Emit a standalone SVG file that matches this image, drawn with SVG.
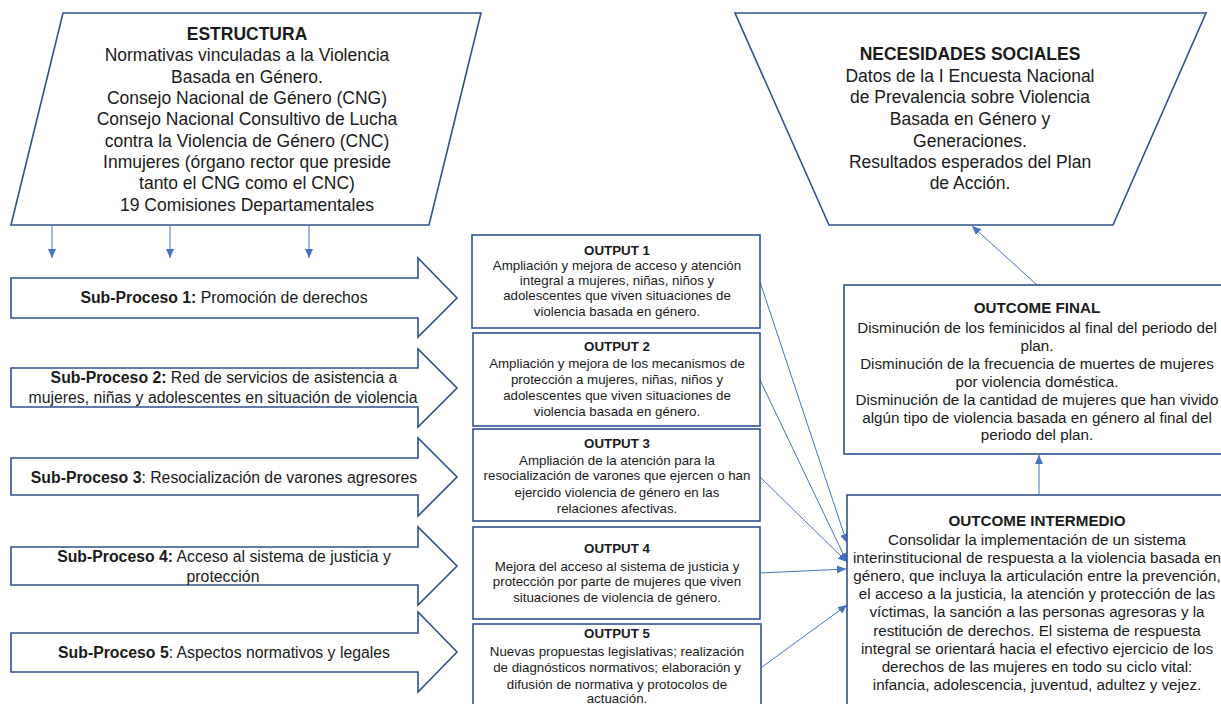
<svg xmlns="http://www.w3.org/2000/svg" width="1221" height="704" viewBox="0 0 1221 704">
<defs>
<style>
.shape{fill:#ffffff;stroke:#2f528f;stroke-width:1.6}
.conn{fill:none;stroke:#4472c4;stroke-width:1}
text{font-family:"Liberation Sans",Arial,sans-serif;fill:#1a1a1a;text-anchor:middle}
.big{font-size:17.5px}
.sp{font-size:15.8px}
.out{font-size:13.3px}
.oc{font-size:15.2px}
.b{font-weight:bold}
</style>
<marker id="ah" markerUnits="userSpaceOnUse" markerWidth="10" markerHeight="8" refX="9" refY="4" orient="auto">
<path d="M0,0 L9,4 L0,8 z" fill="#4472c4"/>
</marker>
</defs>
<rect width="1221" height="704" fill="#ffffff"/>

<g id="connectors">
<line class="conn" x1="52" y1="226" x2="52" y2="258" marker-end="url(#ah)"/>
<line class="conn" x1="170" y1="226" x2="170" y2="258" marker-end="url(#ah)"/>
<line class="conn" x1="309" y1="226" x2="309" y2="258" marker-end="url(#ah)"/>
<line class="conn" x1="760" y1="282" x2="847" y2="543" marker-end="url(#ah)"/>
<line class="conn" x1="760" y1="380" x2="847" y2="562" marker-end="url(#ah)"/>
<line class="conn" x1="760" y1="477" x2="847" y2="562" marker-end="url(#ah)"/>
<line class="conn" x1="760" y1="573" x2="846" y2="569" marker-end="url(#ah)"/>
<line class="conn" x1="762" y1="667" x2="847" y2="605" marker-end="url(#ah)"/>
<line class="conn" x1="1039" y1="494" x2="1039" y2="455" marker-end="url(#ah)"/>
<line class="conn" x1="1037" y1="285" x2="972" y2="226" marker-end="url(#ah)"/>
</g>

<g id="estructura">
<polygon class="shape" points="63,13 481,13 429,225 11,225"/>
<text class="big b" x="247" y="40">ESTRUCTURA</text>
<text class="big" x="247" y="61">Normativas vinculadas a la Violencia</text>
<text class="big" x="247" y="83">Basada en Género.</text>
<text class="big" x="247" y="104">Consejo Nacional de Género (CNG)</text>
<text class="big" x="247" y="125">Consejo Nacional Consultivo de Lucha</text>
<text class="big" x="247" y="147">contra la Violencia de Género (CNC)</text>
<text class="big" x="247" y="168">Inmujeres (órgano rector que preside</text>
<text class="big" x="247" y="189">tanto el CNG como el CNC)</text>
<text class="big" x="247" y="211">19 Comisiones Departamentales</text>
</g>

<g id="necesidades">
<polygon class="shape" points="735,13 1206,13 1113,225 829,225"/>
<text class="big b" x="970" y="60">NECESIDADES SOCIALES</text>
<text class="big" x="970" y="82">Datos de la I Encuesta Nacional</text>
<text class="big" x="970" y="103">de Prevalencia sobre Violencia</text>
<text class="big" x="970" y="125">Basada en Género y</text>
<text class="big" x="970" y="147">Generaciones.</text>
<text class="big" x="970" y="168">Resultados esperados del Plan</text>
<text class="big" x="970" y="189">de Acción.</text>
</g>

<g id="subproceso1">
<polygon class="shape" points="11,278 418,278 418,258 457,298 418,337 418,318 11,318"/>
<text class="sp" x="224" y="303"><tspan class="b">Sub-Proceso 1:</tspan> Promoción de derechos</text>
</g>
<g id="subproceso2">
<polygon class="shape" points="11,368 418,368 418,349 457,388 418,427 418,407 11,407"/>
<text class="sp" x="224" y="383"><tspan class="b">Sub-Proceso 2:</tspan> Red de servicios de asistencia a</text>
<text class="sp" x="223" y="403">mujeres, niñas y adolescentes en situación de violencia</text>
</g>
<g id="subproceso3">
<polygon class="shape" points="11,458 418,458 418,438 457,477 418,516 418,495 11,495"/>
<text class="sp" x="224" y="483"><tspan class="b">Sub-Proceso 3</tspan>: Resocialización de varones agresores</text>
</g>
<g id="subproceso4">
<polygon class="shape" points="11,547 418,547 418,527 457,566 418,605 418,585 11,585"/>
<text class="sp" x="224" y="562"><tspan class="b">Sub-Proceso 4:</tspan> Acceso al sistema de justicia y</text>
<text class="sp" x="223" y="582">protección</text>
</g>
<g id="subproceso5">
<polygon class="shape" points="11,633 418,633 418,612 457,652 418,692 418,672 11,672"/>
<text class="sp" x="224" y="658"><tspan class="b">Sub-Proceso 5</tspan>: Aspectos normativos y legales</text>
</g>

<g id="output1">
<rect class="shape" x="472" y="235" width="288" height="93"/>
<text class="out b" x="617" y="254.5">OUTPUT 1</text>
<text class="out" x="617" y="269.5">Ampliación y mejora de acceso y atención</text>
<text class="out" x="617" y="285">integral a mujeres, niñas, niños y</text>
<text class="out" x="617" y="300">adolescentes que viven situaciones de</text>
<text class="out" x="617" y="316">violencia basada en género.</text>
</g>
<g id="output2">
<rect class="shape" x="473" y="333" width="287" height="93"/>
<text class="out b" x="617" y="351">OUTPUT 2</text>
<text class="out" x="617" y="368">Ampliación y mejora de los mecanismos de</text>
<text class="out" x="617" y="383.5">protección a mujeres, niñas, niños y</text>
<text class="out" x="617" y="399.5">adolescentes que viven situaciones de</text>
<text class="out" x="617" y="415.5">violencia basada en género.</text>
</g>
<g id="output3">
<rect class="shape" x="473" y="429" width="287" height="92"/>
<text class="out b" x="617" y="448">OUTPUT 3</text>
<text class="out" x="617" y="464.5">Ampliación de la atención para la</text>
<text class="out" x="617" y="480">resocialización de varones que ejercen o han</text>
<text class="out" x="617" y="497">ejercido violencia de género en las</text>
<text class="out" x="617" y="513">relaciones afectivas.</text>
</g>
<g id="output4">
<rect class="shape" x="473" y="527" width="287" height="92"/>
<text class="out b" x="617" y="553">OUTPUT 4</text>
<text class="out" x="617" y="570.5">Mejora del acceso al sistema de justicia y</text>
<text class="out" x="617" y="586">protección por parte de mujeres que viven</text>
<text class="out" x="617" y="602">situaciones de violencia de género.</text>
</g>
<g id="output5">
<rect class="shape" x="473" y="624" width="288" height="92"/>
<text class="out b" x="617" y="638">OUTPUT 5</text>
<text class="out" x="617" y="656">Nuevas propuestas legislativas; realización</text>
<text class="out" x="617" y="672">de diagnósticos normativos; elaboración y</text>
<text class="out" x="617" y="688.5">difusión de normativa y protocolos de</text>
<text class="out" x="617" y="703">actuación.</text>
</g>

<g id="outcome-final">
<rect class="shape" x="844" y="285" width="386" height="169"/>
<text class="oc b" x="1037" y="313">OUTCOME FINAL</text>
<text class="oc" x="1037" y="333">Disminución de los feminicidos al final del periodo del</text>
<text class="oc" x="1037" y="351">plan.</text>
<text class="oc" x="1037" y="369">Disminución de la frecuencia de muertes de mujeres</text>
<text class="oc" x="1037" y="387">por violencia doméstica.</text>
<text class="oc" x="1037" y="405">Disminución de la cantidad de mujeres que han vivido</text>
<text class="oc" x="1037" y="423">algún tipo de violencia basada en género al final del</text>
<text class="oc" x="1037" y="440">periodo del plan.</text>
</g>

<g id="outcome-intermedio">
<rect class="shape" x="847" y="495" width="380" height="230"/>
<text class="oc b" x="1037" y="526">OUTCOME INTERMEDIO</text>
<text class="oc" x="1037" y="544.5">Consolidar la implementación de un sistema</text>
<text class="oc" x="1037" y="562.5">interinstitucional de respuesta a la violencia basada en</text>
<text class="oc" x="1037" y="580.5">género, que incluya la articulación entre la prevención,</text>
<text class="oc" x="1037" y="599">el acceso a la justicia, la atención y protección de las</text>
<text class="oc" x="1037" y="617">víctimas, la sanción a las personas agresoras y la</text>
<text class="oc" x="1037" y="635.5">restitución de derechos. El sistema de respuesta</text>
<text class="oc" x="1037" y="653.5">integral se orientará hacia el efectivo ejercicio de los</text>
<text class="oc" x="1037" y="671.5">derechos de las mujeres en todo su ciclo vital:</text>
<text class="oc" x="1037" y="689.5">infancia, adolescencia, juventud, adultez y vejez.</text>
</g>
</svg>
